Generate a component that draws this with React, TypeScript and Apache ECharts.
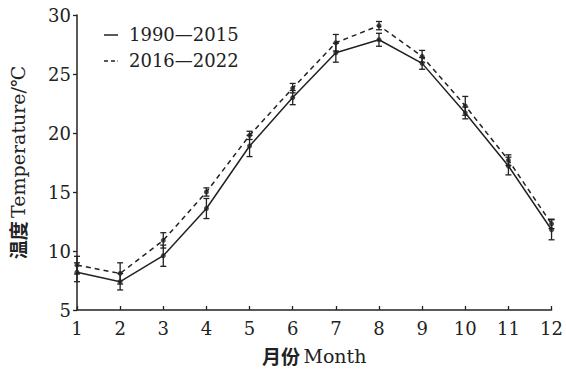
import React, { useEffect, useRef } from "react";
import * as echarts from "echarts";

const months = [1, 2, 3, 4, 5, 6, 7, 8, 9, 10, 11, 12];
const seriesNames = ["1990—2015", "2016—2022"];
const temp1990 = [8.2, 7.4, 9.6, 13.6, 18.9, 23.0, 26.8, 27.9, 25.9, 21.7, 17.2, 11.8];
const err1990 = [0.8, 0.7, 0.9, 0.85, 0.9, 0.6, 0.8, 0.55, 0.5, 0.5, 0.75, 0.85];
const temp2016 = [8.8, 8.1, 10.9, 15.0, 19.8, 23.8, 27.65, 29.1, 26.5, 22.3, 17.7, 12.3];
const err2016 = [0.75, 0.9, 0.65, 0.35, 0.35, 0.4, 0.7, 0.35, 0.5, 0.8, 0.45, 0.4];
const yTicks = [5, 10, 15, 20, 25, 30];
const xTitleCn = "月份";
const xTitleEn = "Month";
const yTitleCn = "温度";
const yTitleEn = "Temperature/℃";

const FONT = "'DejaVu Serif', 'Noto Sans CJK SC', serif";
const INK = "#222";

const SOLID_ICON = "path://M0,0h14v1.5h-14z";
const DASH_ICON = "path://M0,0h4v1.5h-4z M7,0h4v1.5h-4z M13.5,0h0.5v1.5h-0.5z";

function errorSeries(name: string, vals: number[], errs: number[]) {
  return {
    name,
    type: "custom",
    z: 3,
    data: months.map((m, i) => [m, vals[i] - errs[i], vals[i] + errs[i]]),
    renderItem: (params: any, api: any) => {
      const lo = api.coord([api.value(0), api.value(1)]);
      const hi = api.coord([api.value(0), api.value(2)]);
      const hw = 3;
      const style = { stroke: INK, lineWidth: 1.3 };
      return {
        type: "group",
        children: [
          { type: "line", shape: { x1: lo[0], y1: lo[1], x2: hi[0], y2: hi[1] }, style },
          { type: "line", shape: { x1: lo[0] - hw, y1: lo[1], x2: lo[0] + hw, y2: lo[1] }, style },
          { type: "line", shape: { x1: hi[0] - hw, y1: hi[1], x2: hi[0] + hw, y2: hi[1] }, style },
        ],
      };
    },
  };
}

function markerSeries(name: string, vals: number[]) {
  return {
    name,
    type: "scatter",
    z: 5,
    data: months.map((m, i) => [m, vals[i]]),
    symbol: "circle",
    symbolSize: 5,
    itemStyle: { color: INK },
  };
}

const titleRich = {
  cjk: { fontFamily: "'Noto Sans CJK SC', sans-serif", fontWeight: "bold", fontSize: 19, color: INK },
  en: { fontFamily: FONT, fontSize: 19, color: INK },
};

export default function App() {
  const ref = useRef<HTMLDivElement>(null);
  useEffect(() => {
    if (!ref.current) return;
    const chart = echarts.init(ref.current, null, { renderer: "svg" });
    chart.setOption({
      animation: false,
      backgroundColor: "#fff",
      grid: { left: 74, right: 12, top: 15, bottom: 62 },
      xAxis: {
        type: "value",
        min: 1,
        max: 12,
        interval: 1,
        name: `{cjk|${xTitleCn}} {en|${xTitleEn}}`,
        nameLocation: "middle",
        nameGap: 36,
        nameTextStyle: { rich: titleRich },
        axisLine: { lineStyle: { color: INK, width: 1.5 } },
        axisTick: { inside: true, length: 4, lineStyle: { color: INK, width: 1.3 } },
        axisLabel: { fontFamily: FONT, fontSize: 18, color: INK, margin: 9 },
        splitLine: { show: false },
      },
      yAxis: {
        type: "value",
        min: yTicks[0],
        max: yTicks[yTicks.length - 1],
        interval: 5,
        name: `{cjk|${yTitleCn}} {en|${yTitleEn}}`,
        nameLocation: "middle",
        nameGap: 50,
        nameTextStyle: { rich: titleRich },
        axisLine: { show: true, lineStyle: { color: INK, width: 1.5 } },
        axisTick: { show: true, inside: false, length: 4, lineStyle: { color: INK, width: 1.3 } },
        axisLabel: { fontFamily: FONT, fontSize: 18, color: INK, margin: 6 },
        splitLine: { show: false },
      },
      legend: {
        left: 99,
        top: 21,
        orient: "vertical",
        itemWidth: 14,
        itemHeight: 1.5,
        itemGap: 8,
        data: [
          { name: seriesNames[0], icon: SOLID_ICON },
          { name: seriesNames[1], icon: DASH_ICON },
        ],
        itemStyle: { color: INK },
        textStyle: { fontFamily: FONT, fontSize: 18, color: INK, padding: [0, 0, 0, 6] },
      },
      series: [
        errorSeries(seriesNames[0] + " err", temp1990, err1990),
        errorSeries(seriesNames[1] + " err", temp2016, err2016),
        {
          name: seriesNames[0],
          type: "line",
          data: months.map((m, i) => [m, temp1990[i]]),
          symbol: "none",
          z: 4,
          lineStyle: { color: INK, width: 1.5, type: "solid" },
          itemStyle: { color: INK },
        },
        {
          name: seriesNames[1],
          type: "line",
          data: months.map((m, i) => [m, temp2016[i]]),
          symbol: "none",
          z: 4,
          lineStyle: { color: INK, width: 1.5, type: [5, 4] },
          itemStyle: { color: INK },
        },
        markerSeries(seriesNames[0] + " pts", temp1990),
        markerSeries(seriesNames[1] + " pts", temp2016),
      ],
    });
    return () => chart.dispose();
  }, []);
  return <div ref={ref} style={{ width: 566, height: 372, position: "fixed", left: 0, top: 0 }} />;
}
